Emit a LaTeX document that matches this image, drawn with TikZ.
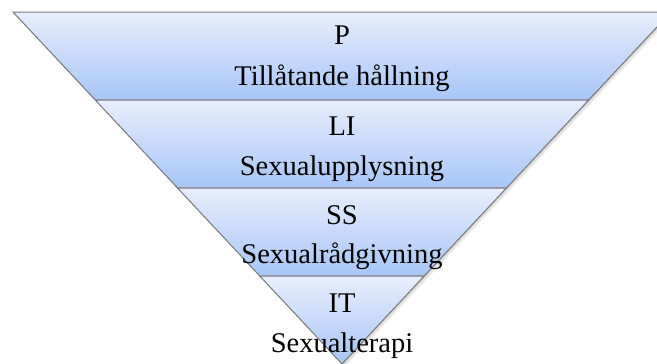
\documentclass[tikz,border=0pt]{standalone}
\usepackage{fontspec}
\setmainfont{Liberation Serif}
\definecolor{bandtop}{RGB}{232,238,253}
\definecolor{bandbot}{RGB}{167,197,246}
\definecolor{bandline}{RGB}{120,120,120}
\tikzset{
  band/.style={top color=bandtop, bottom color=bandbot, draw=bandline, line width=1pt, line join=miter},
  lbl/.style={anchor=base, inner sep=0pt, font=\fontsize{28.5}{32}\selectfont, text=black},
  shade/.style={fill=black, opacity=0.06}
}
\begin{document}
\begin{tikzpicture}[x=1pt,y=-1pt]
\useasboundingbox (0,0) rectangle (657,364);
\clip (0,0) rectangle (657,364);
% soft shadow
\foreach \d in {1,2,3}{
  \fill[shade] (13+\d,12+\d) -- (671+\d,12+\d) -- (342+\d,364+\d) -- cycle;
}
% bands
\path[band] (13,12) -- (671,12) -- (588.75,100) -- (95.25,100) -- cycle;
\path[band] (95.25,100) -- (588.75,100) -- (506.5,188) -- (177.5,188) -- cycle;
\path[band] (177.5,188) -- (506.5,188) -- (424.25,276) -- (259.75,276) -- cycle;
\path[band] (259.75,276) -- (424.25,276) -- (342,364) -- cycle;
% labels
\node[lbl] (p)  at (342,45)  {P};
\node[lbl] (pt) at (342,85)  {Tillåtande hållning};
\node[lbl] (li) at (342,135) {LI};
\node[lbl] (lit) at (342,175) {Sexualupplysning};
\node[lbl] (ss) at (342,224) {SS};
\node[lbl] (sst) at (342,263) {Sexualrådgivning};
\node[lbl] (it) at (342,312) {IT};
\node[lbl] (itt) at (342,352) {Sexualterapi};
\end{tikzpicture}
\end{document}
